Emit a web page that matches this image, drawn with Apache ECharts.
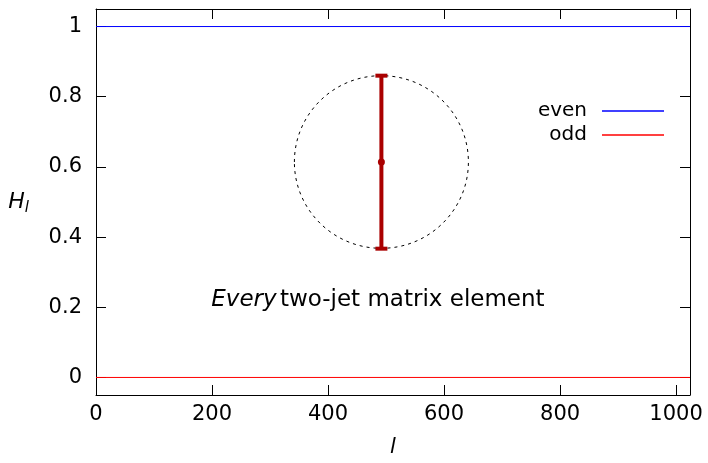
<!DOCTYPE html>
<html><head><meta charset="utf-8">
<script src="https://cdn.jsdelivr.net/npm/echarts@6/dist/echarts.min.js"></script>
<style>html,body{margin:0;padding:0;background:#fff}#c{width:708px;height:463px}</style>
</head><body><div id="c"></div>
<script>
// ---- data ----
const xLimits = [0, 1024];
const yLimits = [-0.05, 1.05];
const xTicks = [0, 200, 400, 600, 800, 1000];
const yTicks = [0, 0.2, 0.4, 0.6, 0.8, 1];
const evenX = [0, 1024];
const evenY = [1, 1];
const oddX = [0, 1024];
const oddY = [0, 0];
// error bar: [x, low, mid, high]
const errorBar = [[492, 0.367, 0.614, 0.86]];
// ellipse (circle on screen): [cx, cy, rx, ry] in data units
const circle = [[492, 0.614, 150, 0.246]];
// annotation: [x, y]
const annotation = [[486, 0.22]];

const FONT = 'DejaVu Sans';
const chart = echarts.init(document.getElementById('c'));
const tickStyle = {show: true, inside: true, length: 10, lineStyle: {color: '#000'}};
const axisCommon = {
  type: 'value', splitLine: {show: false},
  axisLine: {show: true, onZero: false, lineStyle: {color: '#000', width: 1}},
  axisTick: tickStyle,
};
chart.setOption({
  animation: false,
  backgroundColor: '#fff',
  grid: {left: 96, right: 18, top: 9, bottom: 65, containLabel: false},
  legend: {
    right: 39, top: 96, orient: 'vertical', align: 'right',
    itemWidth: 62, itemHeight: 1.5, itemGap: 4, icon: 'rect',
    textStyle: {fontFamily: FONT, fontSize: 20, color: '#000', padding: [0, 10, 0, 0]},
    data: ['even', 'odd']
  },
  xAxis: [
    Object.assign({}, axisCommon, {
      min: xLimits[0], max: xLimits[1], interval: 200,
      axisLabel: {fontFamily: FONT, fontSize: 21, color: '#000', margin: 9,
        formatter: v => xTicks.includes(v) ? String(v) : ''},
      name: 'l', nameLocation: 'middle', nameGap: 42,
      nameTextStyle: {fontFamily: FONT, fontSize: 21, fontStyle: 'italic', color: '#000'}
    }),
    Object.assign({}, axisCommon, {
      position: 'top', min: xLimits[0], max: xLimits[1], interval: 200,
      axisLabel: {show: false}
    })
  ],
  yAxis: [
    Object.assign({}, axisCommon, {
      min: yLimits[0], max: yLimits[1],
      axisLabel: {fontFamily: FONT, fontSize: 21, color: '#000', margin: 14,
        customValues: yTicks, formatter: v => String(v)},
      axisTick: Object.assign({}, tickStyle, {customValues: yTicks}),
      name: '{h|H}{s|l}', nameLocation: 'middle', nameGap: 67, nameRotate: 0,
      nameTextStyle: {rich: {
        h: {fontFamily: FONT, fontSize: 22, fontStyle: 'italic', color: '#000'},
        s: {fontFamily: FONT, fontSize: 15, fontStyle: 'italic', color: '#000', padding: [12, 0, 0, 0]}
      }}
    }),
    Object.assign({}, axisCommon, {
      position: 'right', min: yLimits[0], max: yLimits[1],
      axisLabel: {show: false},
      axisTick: Object.assign({}, tickStyle, {customValues: yTicks})
    })
  ],
  series: [
    {name: 'even', type: 'line', symbol: 'none', z: 3, data: evenX.map((x, i) => [x, evenY[i]]),
      lineStyle: {color: '#0000ff', width: 1}, itemStyle: {color: '#0000ff'}},
    {name: 'odd', type: 'line', symbol: 'none', z: 3, data: oddX.map((x, i) => [x, oddY[i]]),
      lineStyle: {color: '#ff0000', width: 1}, itemStyle: {color: '#ff0000'}},
    {type: 'custom', silent: true, data: circle,
      renderItem: (params, api) => {
        const c = api.coord([api.value(0), api.value(1)]);
        const e = api.coord([api.value(0) + api.value(2), api.value(1) + api.value(3)]);
        return {type: 'ellipse', shape: {cx: c[0], cy: c[1], rx: Math.abs(e[0] - c[0]), ry: Math.abs(e[1] - c[1])},
          style: {fill: 'none', stroke: '#000', lineWidth: 1, lineDash: [3, 4]}};
      }},
    {type: 'custom', silent: true, data: errorBar, z: 5,
      renderItem: (params, api) => {
        const lo = api.coord([api.value(0), api.value(1)]);
        const mid = api.coord([api.value(0), api.value(2)]);
        const hi = api.coord([api.value(0), api.value(3)]);
        const col = '#aa0000', w = 4, cap = 6;
        return {type: 'group', children: [
          {type: 'line', shape: {x1: lo[0], y1: lo[1], x2: hi[0], y2: hi[1]}, style: {stroke: col, lineWidth: w}},
          {type: 'line', shape: {x1: lo[0] - cap, y1: lo[1], x2: lo[0] + cap, y2: lo[1]}, style: {stroke: col, lineWidth: w}},
          {type: 'line', shape: {x1: hi[0] - cap, y1: hi[1], x2: hi[0] + cap, y2: hi[1]}, style: {stroke: col, lineWidth: w}},
          {type: 'circle', shape: {cx: mid[0], cy: mid[1], r: 3.5}, style: {fill: col}}
        ]};
      }},
    {type: 'custom', silent: true, data: annotation,
      renderItem: (params, api) => {
        const p = api.coord([api.value(0), api.value(1)]);
        return {type: 'text', x: p[0], y: p[1], style: {
          text: '{i|Every} {n|two-jet matrix element}', align: 'center', verticalAlign: 'middle',
          rich: {i: {fontFamily: FONT, fontSize: 23, fontStyle: 'italic', fill: '#000'},
                 n: {fontFamily: FONT, fontSize: 23, fill: '#000'}}}};
      }}
  ]
});
</script></body></html>
